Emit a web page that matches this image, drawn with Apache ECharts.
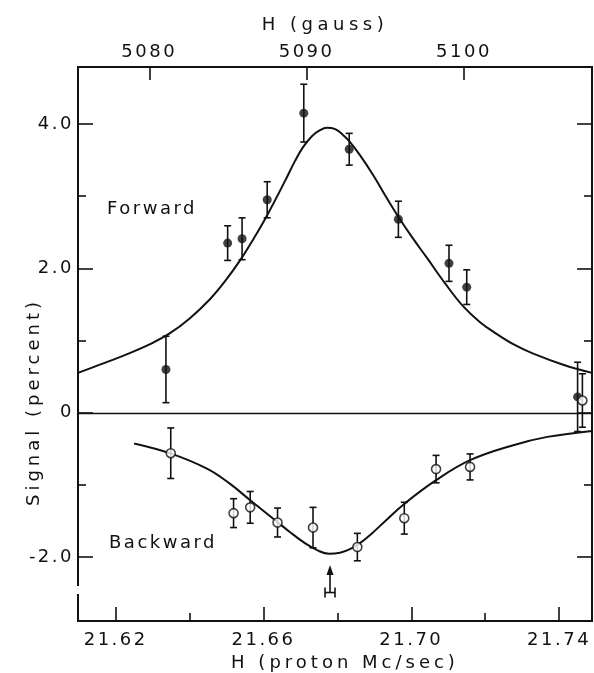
<!DOCTYPE html>
<html><head><meta charset="utf-8">
<script src="https://cdn.jsdelivr.net/npm/echarts@6/dist/echarts.min.js"></script>
<style>html,body{margin:0;padding:0;background:#fff}#c{width:594px;height:673px}</style>
</head><body><div id="c"></div>
<script>
// ---------- axis ranges / ticks ----------
const xMin = 21.6098, xMax = 21.7489;          // H (proton Mc/sec)
const gaussMin = 5075.47, gaussMax = 5108.14;  // H (gauss), same span on top axis
const yMin = -2.884, yMax = 4.789;             // Signal (percent)
const bottomTickLabels = [21.62, 21.66, 21.70, 21.74];
const bottomMinorTicks = [21.64, 21.68, 21.72];
const topTickLabels = [5080, 5090, 5100];
const yTickLabels = [-2, 0, 2, 4];
const yMinorTicks = [-1, 1, 3];

// ---------- Forward (filled points) ----------
const forwardX   = [21.6336, 21.6503, 21.6542, 21.6610, 21.6709, 21.6832, 21.6965, 21.7102, 21.7150, 21.7450];
const forwardY   = [0.60, 2.35, 2.41, 2.95, 4.15, 3.65, 2.68, 2.07, 1.74, 0.22];
const forwardErr = [0.46, 0.24, 0.29, 0.25, 0.40, 0.22, 0.25, 0.25, 0.24, 0.48];

// ---------- Backward (open points) ----------
const backwardX   = [21.6349, 21.6519, 21.6564, 21.6638, 21.6734, 21.6854, 21.6981, 21.7067, 21.7159, 21.7463];
const backwardY   = [-0.56, -1.39, -1.31, -1.52, -1.59, -1.86, -1.46, -0.78, -0.75, 0.17];
const backwardErr = [0.35, 0.20, 0.22, 0.20, 0.28, 0.19, 0.22, 0.19, 0.18, 0.37];

// ---------- fitted curves ----------
const forwardCurveX = [21.6098, 21.6157, 21.6231, 21.6293, 21.6347, 21.6401, 21.6455, 21.6496, 21.6537, 21.6574, 21.6610, 21.6658, 21.6685, 21.6707, 21.6731, 21.6753, 21.6772, 21.6794, 21.6813, 21.6832, 21.6861, 21.6897, 21.6929, 21.6964, 21.7002, 21.7043, 21.7091, 21.7140, 21.7186, 21.7232, 21.7281, 21.7330, 21.7411, 21.7489];
const forwardCurveY = [0.553, 0.666, 0.812, 0.950, 1.102, 1.310, 1.573, 1.823, 2.114, 2.418, 2.737, 3.208, 3.485, 3.679, 3.831, 3.914, 3.946, 3.928, 3.859, 3.762, 3.568, 3.291, 3.014, 2.723, 2.432, 2.141, 1.795, 1.476, 1.255, 1.089, 0.936, 0.819, 0.666, 0.553];
const backwardCurveX = [21.6250, 21.6350, 21.6447, 21.6507, 21.6564, 21.6618, 21.6672, 21.6712, 21.6748, 21.6777, 21.6807, 21.6834, 21.6861, 21.6894, 21.6929, 21.6980, 21.7067, 21.7159, 21.7276, 21.7368, 21.7489];
const backwardCurveY = [-0.425, -0.566, -0.774, -0.975, -1.211, -1.432, -1.654, -1.806, -1.910, -1.952, -1.938, -1.889, -1.806, -1.668, -1.501, -1.266, -0.934, -0.657, -0.449, -0.334, -0.251];

// ---------- resonance marker (arrow with its uncertainty) ----------
const resonanceX = [21.678];
const resonanceErr = [0.00135];
const arrowTipY = [-2.11];
const arrowBaseY = [-2.49];

const FONT = "'DejaVu Sans', 'Liberation Sans', sans-serif";
const INK = '#111';

// letter spacing of the original lettering (canvas text drawing)
const spacing = {'Signal (percent)': '4px', 'H (proton Mc/sec)': '4px', 'H (gauss)': '4.5px'};
(function () {
  const proto = CanvasRenderingContext2D.prototype;
  if (!('letterSpacing' in proto)) return;
  const orig = proto.fillText;
  proto.fillText = function (text, x, y, maxW) {
    const prev = this.letterSpacing;
    this.letterSpacing = spacing[text] || '2.5px';
    const r = maxW === undefined ? orig.call(this, text, x, y) : orig.call(this, text, x, y, maxW);
    this.letterSpacing = prev;
    return r;
  };
})();

const chart = echarts.init(document.getElementById('c'), null, {renderer: 'canvas'});

const zip = (a, b) => a.map((v, i) => [v, b[i]]);
const zip3 = (a, b, c) => a.map((v, i) => [v, b[i], c[i]]);
const TICK = {stroke: INK, lineWidth: 1.6};

function errorBars(params, api) {
  const x = api.value(0), y = api.value(1), e = api.value(2);
  const t = api.coord([x, y + e]), b = api.coord([x, y - e]);
  const w = 3.5;
  return {type: 'group', children: [
    {type: 'line', shape: {x1: t[0], y1: t[1], x2: b[0], y2: b[1]}, style: TICK},
    {type: 'line', shape: {x1: t[0] - w, y1: t[1], x2: t[0] + w, y2: t[1]}, style: TICK},
    {type: 'line', shape: {x1: b[0] - w, y1: b[1], x2: b[0] + w, y2: b[1]}, style: TICK}
  ]};
}

function arrowItem(params, api) {
  const x = api.value(0), tipV = api.value(1), baseV = api.value(2), e = api.value(3);
  const tip = api.coord([x, tipV]), base = api.coord([x, baseV]);
  const l = api.coord([x - e, baseV]), r = api.coord([x + e, baseV]);
  return {type: 'group', children: [
    {type: 'line', shape: {x1: tip[0], y1: tip[1] + 6, x2: base[0], y2: base[1]}, style: TICK},
    {type: 'polygon', shape: {points: [[tip[0], tip[1]], [tip[0] - 3.5, tip[1] + 10], [tip[0] + 3.5, tip[1] + 10]]}, style: {fill: INK}},
    {type: 'line', shape: {x1: l[0], y1: l[1], x2: r[0], y2: r[1]}, style: TICK},
    {type: 'line', shape: {x1: l[0], y1: l[1] - 5, x2: l[0], y2: l[1] + 5}, style: TICK},
    {type: 'line', shape: {x1: r[0], y1: r[1] - 5, x2: r[0], y2: r[1] + 5}, style: TICK}
  ]};
}

const labelStyle = {color: INK, fontFamily: FONT, fontSize: 18};
const frameLine = () => ({show: true, onZero: false, lineStyle: {color: INK, width: 2}});
const tickStyle = {color: INK, width: 1.6};

const option = {
  animation: false,
  backgroundColor: '#fff',
  grid: [{left: 78, right: 2, top: 67, bottom: 52, show: true, borderColor: INK, borderWidth: 2, backgroundColor: 'transparent'}],
  xAxis: [
    {gridIndex: 0, type: 'value', position: 'bottom', min: xMin, max: xMax, axisLine: frameLine(),
     axisTick: {show: true, inside: true, length: 14, customValues: bottomTickLabels, lineStyle: tickStyle},
     axisLabel: Object.assign({customValues: bottomTickLabels, margin: 10, formatter: v => v.toFixed(2)}, labelStyle),
     splitLine: {show: false}},
    {gridIndex: 0, type: 'value', position: 'top', min: gaussMin, max: gaussMax, axisLine: frameLine(),
     axisTick: {show: true, inside: true, length: 13, customValues: topTickLabels, lineStyle: tickStyle},
     axisLabel: Object.assign({customValues: topTickLabels, margin: 6, formatter: v => String(v)}, labelStyle),
     splitLine: {show: false}},
    {gridIndex: 0, type: 'value', position: 'bottom', min: xMin, max: xMax, offset: 0,
     axisLine: {show: false, onZero: false},
     axisTick: {show: true, inside: true, length: 8, customValues: bottomMinorTicks, lineStyle: tickStyle},
     axisLabel: {show: false}, splitLine: {show: false}}
  ],
  yAxis: [
    {gridIndex: 0, type: 'value', position: 'left', min: yMin, max: yMax, axisLine: frameLine(),
     axisTick: {show: true, inside: true, length: 15, customValues: yTickLabels, lineStyle: tickStyle},
     axisLabel: Object.assign({customValues: yTickLabels, margin: 4, formatter: v => v === 0 ? '0' : v.toFixed(1)}, labelStyle),
     splitLine: {show: false}},
    {gridIndex: 0, type: 'value', position: 'right', min: yMin, max: yMax, axisLine: frameLine(),
     axisTick: {show: true, inside: true, length: 15, customValues: yTickLabels, lineStyle: tickStyle},
     axisLabel: {show: false}, splitLine: {show: false}},
    {gridIndex: 0, type: 'value', position: 'left', min: yMin, max: yMax, offset: 0,
     axisLine: {show: false, onZero: false},
     axisTick: {show: true, inside: true, length: 8, customValues: yMinorTicks, lineStyle: tickStyle},
     axisLabel: {show: false}, splitLine: {show: false}},
    {gridIndex: 0, type: 'value', position: 'right', min: yMin, max: yMax, offset: 0,
     axisLine: {show: false, onZero: false},
     axisTick: {show: true, inside: true, length: 8, customValues: yMinorTicks, lineStyle: tickStyle},
     axisLabel: {show: false}, splitLine: {show: false}}
  ],
  graphic: [
    {type: 'rect', shape: {x: 72, y: 586, width: 10, height: 8}, style: {fill: '#fff'}, z: 100},
    {type: 'text', x: 152, y: 209, style: {text: 'Forward', font: '18px ' + FONT, fill: INK, textAlign: 'center', textVerticalAlign: 'middle'}},
    {type: 'text', x: 163, y: 543, style: {text: 'Backward', font: '18px ' + FONT, fill: INK, textAlign: 'center', textVerticalAlign: 'middle'}},
    {type: 'text', x: 34, y: 402, rotation: Math.PI / 2, style: {text: 'Signal (percent)', font: '18px ' + FONT, fill: INK, textAlign: 'center', textVerticalAlign: 'middle'}},
    {type: 'text', x: 325, y: 25, style: {text: 'H (gauss)', font: '18px ' + FONT, fill: INK, textAlign: 'center', textVerticalAlign: 'middle'}},
    {type: 'text', x: 345, y: 663, style: {text: 'H (proton Mc/sec)', font: '18px ' + FONT, fill: INK, textAlign: 'center', textVerticalAlign: 'middle'}}
  ],
  series: [
    {name: 'Forward fit', type: 'line', xAxisIndex: 0, yAxisIndex: 0, data: zip(forwardCurveX, forwardCurveY),
     smooth: 0.4, showSymbol: false, symbol: 'none', lineStyle: {color: INK, width: 2}, silent: true,
     markLine: {silent: true, symbol: 'none', label: {show: false}, lineStyle: {color: INK, width: 1.3, type: 'solid'}, data: [{yAxis: 0}]}},
    {name: 'Backward fit', type: 'line', xAxisIndex: 0, yAxisIndex: 0, data: zip(backwardCurveX, backwardCurveY),
     smooth: 0.4, showSymbol: false, symbol: 'none', lineStyle: {color: INK, width: 2}, silent: true},
    {name: 'Forward err', type: 'custom', xAxisIndex: 0, yAxisIndex: 0, renderItem: errorBars,
     encode: {x: 0, y: 1}, data: zip3(forwardX, forwardY, forwardErr), z: 3},
    {name: 'Backward err', type: 'custom', xAxisIndex: 0, yAxisIndex: 0, renderItem: errorBars,
     encode: {x: 0, y: 1}, data: zip3(backwardX, backwardY, backwardErr), z: 3},
    {name: 'Forward', type: 'scatter', xAxisIndex: 0, yAxisIndex: 0, data: zip(forwardX, forwardY),
     symbol: 'circle', symbolSize: 9, itemStyle: {color: INK}, z: 4},
    {name: 'Backward', type: 'scatter', xAxisIndex: 0, yAxisIndex: 0, data: zip(backwardX, backwardY),
     symbol: 'circle', symbolSize: 9, itemStyle: {color: '#fff', borderColor: INK, borderWidth: 1.6}, z: 5},
    {name: 'Resonance', type: 'custom', xAxisIndex: 0, yAxisIndex: 0, renderItem: arrowItem,
     encode: {x: 0, y: 1}, data: resonanceX.map((x, i) => [x, arrowTipY[i], arrowBaseY[i], resonanceErr[i]])}
  ]
};

chart.setOption(option);
</script></body></html>
